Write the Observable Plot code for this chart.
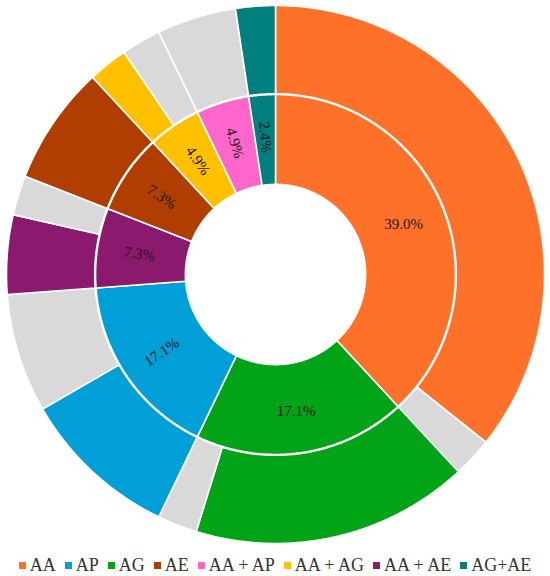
<!DOCTYPE html>
<html>
<head>
<meta charset="utf-8">
<script src="https://cdn.jsdelivr.net/npm/d3@7"></script>
<script src="https://cdn.jsdelivr.net/npm/@observablehq/plot@0.6"></script>
<style>
  html, body { margin: 0; padding: 0; background: #fff; }
  body { width: 550px; }
  #legend {
    display: flex; justify-content: center; align-items: center;
    font-family: "Liberation Serif", "DejaVu Serif", serif;
    font-size: 18px; line-height: 20px; color: #333;
    padding-top: 10px; height: 22px; white-space: nowrap;
  }
  .item { display: flex; align-items: center; margin: 0 4.5px; }
  .sw { width: 7px; height: 7px; margin-right: 4px; display: inline-block; }
</style>
</head>
<body>
<div id="chart"></div>
<div id="legend"></div>
<script>
// ---- data ----
// inner ring categories, clockwise from 12 o'clock
const categories = ["AA", "AG", "AP", "AA + AE", "AE", "AA + AG", "AA + AP", "AG+AE"];
const innerLabels = ["39.0%", "17.1%", "17.1%", "7.3%", "7.3%", "4.9%", "4.9%", "2.4%"];
// outer ring: coloured part and grey part of each category
const coloredCounts = [15, 7, 4, 2, 3, 1, 0, 1];
const grayCounts    = [1, 1, 3, 1, 0, 1, 2, 0];
// legend
const legendOrder = ["AA", "AP", "AG", "AE", "AA + AP", "AA + AG", "AA + AE", "AG+AE"];
const legendColors = ["#FF7129", "#009FD8", "#01A317", "#B03E00", "#FF66CC", "#FFC000", "#8B196E", "#007F7F"];
const otherKey = "other";
const otherColor = "#D9D9D9";

// ---- geometry derived from data ----
const totals = categories.map((c, i) => coloredCounts[i] + grayCounts[i]);
const grand = d3.sum(totals);
const ang = v => v / grand * 2 * Math.PI;
const R_HOLE = 0.335, R_IN = 0.669, R_OUT0 = 0.672, R_OUT = 1;

function arcPoints(id, key, a0, a1, r0, r1) {
  const pts = [];
  const n = Math.max(2, Math.ceil((a1 - a0) / (Math.PI / 360)));
  for (let k = 0; k <= n; k++) {
    const a = a0 + (a1 - a0) * k / n;
    pts.push({id, key, x: r1 * Math.sin(a), y: r1 * Math.cos(a)});
  }
  for (let k = n; k >= 0; k--) {
    const a = a0 + (a1 - a0) * k / n;
    pts.push({id, key, x: r0 * Math.sin(a), y: r0 * Math.cos(a)});
  }
  return pts;
}

const polys = [];
const labels = [];
let cum = 0;
categories.forEach((c, i) => {
  const s = cum, e = cum + totals[i];
  polys.push(...arcPoints("in" + i, c, ang(s), ang(e), R_HOLE, R_IN));
  if (coloredCounts[i] > 0)
    polys.push(...arcPoints("oc" + i, c, ang(s), ang(s + coloredCounts[i]), R_OUT0, R_OUT));
  if (grayCounts[i] > 0)
    polys.push(...arcPoints("og" + i, otherKey, ang(s + coloredCounts[i]), ang(e), R_OUT0, R_OUT));
  const mid = (ang(s) + ang(e)) / 2;
  const spanDeg = (ang(e) - ang(s)) * 180 / Math.PI;
  const midDeg = mid * 180 / Math.PI;
  const rot = spanDeg > 65 ? 0 : (midDeg < 180 ? midDeg - 90 : midDeg - 270);
  const rl = 0.512;
  labels.push({x: rl * Math.sin(mid), y: rl * Math.cos(mid), text: innerLabels[i], rot});
  cum = e;
});

const chart = Plot.plot({
  width: 550,
  height: 544,
  margin: 0,
  x: {domain: [-1, 1], range: [6, 544], axis: null},
  y: {domain: [-1, 1], range: [543, 5], axis: null},
  color: {domain: [...legendOrder, otherKey], range: [...legendColors, otherColor]},
  marks: [
    Plot.line(polys, {x: "x", y: "y", z: "id", fill: "key", stroke: "white", strokeWidth: 1.6, curve: "linear-closed"}),
    Plot.text(labels, {x: "x", y: "y", text: "text", rotate: "rot", fontSize: 15,
      fontFamily: "Liberation Serif, DejaVu Serif, serif", fill: "#1a1a1a"})
  ]
});
document.getElementById("chart").appendChild(chart);

const leg = document.getElementById("legend");
legendOrder.forEach((k, i) => {
  const it = document.createElement("span");
  it.className = "item";
  const sw = document.createElement("span");
  sw.className = "sw";
  sw.style.background = legendColors[i];
  const t = document.createElement("span");
  t.textContent = k;
  it.appendChild(sw); it.appendChild(t);
  leg.appendChild(it);
});
</script>
</body>
</html>
